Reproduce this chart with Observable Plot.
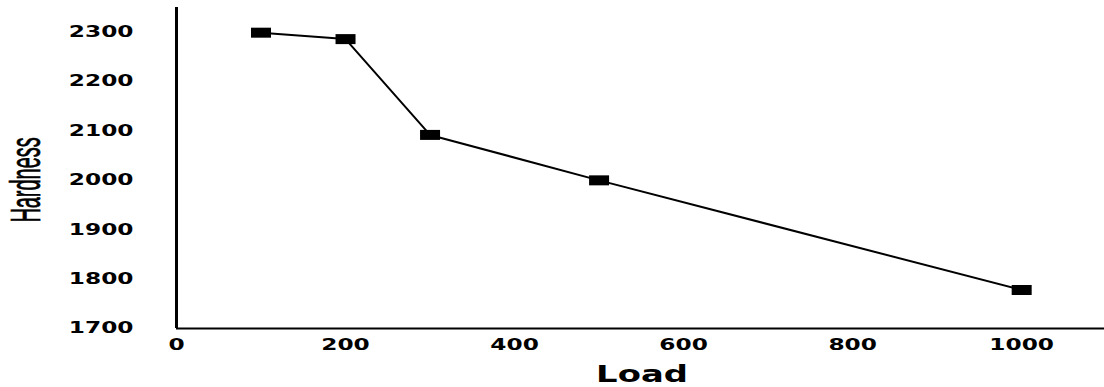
<!DOCTYPE html>
<html><head><meta charset="utf-8">
<script src="https://cdn.jsdelivr.net/npm/d3@7"></script>
<script src="https://cdn.jsdelivr.net/npm/@observablehq/plot@0.6"></script>
<style>body{margin:0;background:#fff}</style>
</head><body><div id="chart"></div>
<script>
const loads = [100, 200, 300, 500, 1000];
const hardness = [2299, 2286, 2092, 2000, 1778];
const xTicks = [0, 200, 400, 600, 800, 1000];
const yTicks = [1700, 1800, 1900, 2000, 2100, 2200, 2300];
const xLabel = "Load";
const yLabel = "Hardness";

const data = loads.map((x, i) => ({load: x, hardness: hardness[i]}));
const rectSymbol = {draw(ctx) { ctx.rect(-10, -5, 20, 10); }};

const chart = Plot.plot({
  width: 1104, height: 387,
  marginLeft: 176, marginRight: 0, marginTop: 7, marginBottom: 59,
  style: {fontFamily: "DejaVu Sans", fontSize: "15px", fontWeight: "bold", background: "#fff", color: "#000", overflow: "visible"},
  x: {domain: [0, 1098]},
  y: {domain: [1700, 2350]},
  marks: [
    Plot.axisX({ticks: xTicks, tickSize: 0, tickPadding: 11, label: null, tickFormat: "d"}),
    Plot.axisY({ticks: yTicks, tickSize: 0, tickPadding: 43, label: null, tickFormat: "d"}),
    Plot.ruleY([1700], {strokeWidth: 2, stroke: "#000"}),
    Plot.ruleX([0], {strokeWidth: 3, stroke: "#000"}),
    Plot.line(data, {x: "load", y: "hardness", strokeWidth: 2, stroke: "#000"}),
    Plot.dot(data, {x: "load", y: "hardness", symbol: rectSymbol, fill: "#000", stroke: null})
  ]
});
document.getElementById("chart").appendChild(chart);

const svg = d3.select(chart);
function stretch(sel, sx, sy) {
  sel.each(function() {
    let x = 0, y = 0;
    const ax = this.getAttribute("x"), ay = this.getAttribute("y");
    if (ax != null && isFinite(+ax)) { x = +ax; this.removeAttribute("x"); }
    if (ay != null && isFinite(+ay)) { y = +ay; this.removeAttribute("y"); }
    const t = this.getAttribute("transform") || "";
    this.setAttribute("transform", `${t} translate(${x},${y}) scale(${sx},${sy})`);
  });
}
stretch(svg.selectAll('g[aria-label="x-axis tick label"] text, g[aria-label="y-axis tick label"] text'), 1.55, 1);

svg.append("text")
  .attr("transform", "translate(642,382) scale(1.47,1)")
  .attr("text-anchor", "middle")
  .attr("font-family", "DejaVu Sans").attr("font-weight", "bold").attr("font-size", 23)
  .attr("fill", "#000")
  .text(xLabel);

svg.append("text")
  .attr("transform", "translate(40,180) rotate(-90) scale(0.83,1.75)")
  .attr("text-anchor", "middle")
  .attr("font-family", "Liberation Sans").attr("font-weight", "normal").attr("font-size", 24)
  .attr("fill", "#000").attr("stroke", "#000").attr("stroke-width", 0.4)
  .text(yLabel);
</script>
</body></html>
